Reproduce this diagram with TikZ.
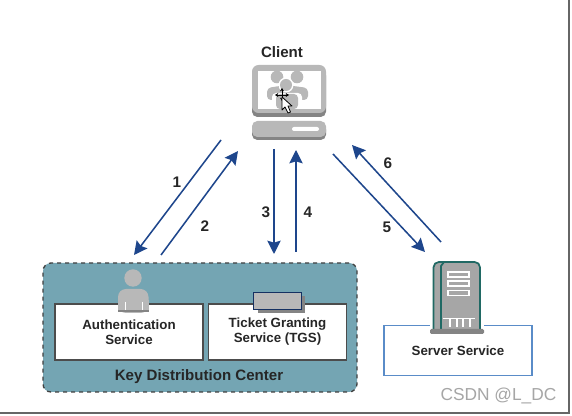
\documentclass[tikz,border=0pt]{standalone}
\usepackage{fontspec}
\setmainfont{Liberation Sans}
\definecolor{arrowblue}{RGB}{30,70,140}
\definecolor{kdcteal}{RGB}{116,165,179}
\definecolor{icongray}{RGB}{184,184,184}
\definecolor{icondark}{RGB}{132,132,132}
\definecolor{serverteal}{RGB}{32,105,100}
\definecolor{serverblue}{RGB}{90,140,200}
\usetikzlibrary{arrows.meta, positioning}

\begin{document}
\begin{tikzpicture}[
          x=0.75pt,
          y=-0.75pt,
          svcbox/.style={
              draw=black!70,
              fill=white,
              line width=0.8pt,
              minimum height=42pt,
              inner sep=0pt,
              font=\fontsize{10}{11.25}\selectfont\bfseries,
              text=black!85,
              align=center
            },
          kdcbox/.style={
              draw=black!75,
              fill=kdcteal,
              dashed,
              rounded corners=6pt,
              line width=1.0pt,
              minimum width=235.5pt,
              minimum height=96.75pt
            },
          iconpart/.style={fill=icongray, draw=none},
          title/.style={font=\fontsize{11.3}{13}\selectfont\bfseries, text=black!85, inner sep=0pt},
          numlabel/.style={font=\fontsize{11.5}{13}\selectfont\bfseries, text=black!85, inner sep=0pt},
          arr/.style={-{Stealth[length=10pt, width=10pt, inset=1.5pt]}, arrowblue, line width=1.15pt}
        ]
        \useasboundingbox (0,0) rectangle (572,416);
        \fill[white] (0,0) rectangle (572,416);

        % client
        \node[title] (clienttitle) at (282,52) {Client};
        \fill[icondark, rounded corners=4pt] (252,70) rectangle (326,117);
        \fill[icongray, rounded corners=5pt] (252,65) rectangle (326,113);
        \fill[white] (258,71) rectangle (321,109);
        \fill[iconpart] (277,77) circle (6.3);
        \fill[iconpart] (297,77) circle (6.3);
        \fill[iconpart, rounded corners=3pt] (267,100) -- (267,88) -- (286,85) -- (308,88) -- (308,100) -- cycle;
        \fill[white] (286,85) circle (7.5);
        \fill[white, rounded corners=3pt] (272,109) -- (272,93) -- (302,93) -- (302,109) -- cycle;
        \fill[iconpart] (286,85) circle (6);
        \fill[iconpart, rounded corners=3pt] (276,109) -- (276,94) -- (298,94) -- (298,109) -- cycle;
        \fill[icondark, rounded corners=4pt] (252,124) rectangle (326,140);
        \fill[icongray, rounded corners=4pt] (252,121) rectangle (326,137);
        \fill[white, rounded corners=1.5pt] (292,127) rectangle (319,131);

        % mouse pointer
        \draw[black, line width=0.6pt, {Stealth[length=2.5pt, width=3pt]}-{Stealth[length=2.5pt, width=3pt]}] (282,88) -- (282,101);
        \draw[black, line width=0.6pt, {Stealth[length=2.5pt, width=3pt]}-{Stealth[length=2.5pt, width=3pt]}] (275,95) -- (289,95);
        \draw[black, fill=white, line width=0.6pt, line join=round] (282,97) -- (282,110) -- (285,107) -- (288,113) -- (290.5,112) -- (288,106) -- (292,106) -- cycle;

        % key distribution center
        \node[kdcbox] (kdc) at (200,327.5) {};
        \node[svcbox, minimum width=111pt] (auth) at (129,332) {Authentication\\Service};
        \node[svcbox, minimum width=104pt] (tgs) at (277.5,332) {Ticket Granting\\Service (TGS)};
        \node[title] (kdctitle) at (199,377) {Key Distribution Center};
        \fill[iconpart] (133,278) circle (8.7);
        \fill[iconpart, rounded corners=6pt] (118,313) -- (118,289) -- (148.5,289) -- (148.5,313) -- cycle;
        \fill[icongray, sharp corners] (118,300) rectangle (148.5,310);
        \fill[icondark] (118,310) rectangle (148.5,312);
        \draw[white, line width=0.7pt] (125,302) -- (125,310) (142,302) -- (142,310);
        \fill[icondark] (258,296) rectangle (305,313);
        \fill[icongray, draw=arrowblue!70!black, line width=0.7pt] (253,292) rectangle (301,309);

        % server
        \node[draw=serverblue, fill=white, line width=0.8pt, minimum width=111pt, minimum height=38pt, inner sep=0pt,
          font=\fontsize{10}{12}\selectfont\bfseries, text=black!85] (server) at (458,350.5) {Server Service};
        \fill[white] (430,322) rectangle (484,326);
        \draw[serverteal, fill=icongray!90!black, line width=1.3pt, rounded corners=4pt] (433.5,330) -- (433.5,262) -- (480,262) -- (480,330);
        \draw[serverteal, line width=1.3pt] (441,330) -- (441,266) -- (444,262);
        \fill[icondark, rounded corners=1pt] (430,329) rectangle (484,334);
        \foreach \slot in {272,281,290.5}
          \draw[white, line width=0.8pt] (448,\slot) rectangle (469,\slot+5);
        \draw[white, line width=1.0pt] (443,318.5) -- (475,318.5);
        \foreach \vent in {450,457,463,470}
          \draw[white, line width=0.8pt] (\vent,318.5) -- (\vent,327);

        % connectors
        \coordinate (a1) at (221,140);
        \coordinate (b1) at (134,255);
        \coordinate (a2) at (161,255);
        \coordinate (b2) at (238,151);
        \coordinate (a3) at (274,149);
        \coordinate (b3) at (274,254);
        \coordinate (a4) at (296,252);
        \coordinate (b4) at (296,150);
        \coordinate (a5) at (333,154);
        \coordinate (b5) at (425,252);
        \coordinate (a6) at (441,242);
        \coordinate (b6) at (352,145);
        \draw[arr] (a1) -- (b1);
        \draw[arr] (a2) -- (b2);
        \draw[arr] (a3) -- (b3);
        \draw[arr] (a4) -- (b4);
        \draw[arr] (a5) -- (b5);
        \draw[arr] (a6) -- (b6);
        \node[numlabel] (n1) at (177,182) {1};
        \node[numlabel] (n2) at (205,226) {2};
        \node[numlabel] (n3) at (266,212) {3};
        \node[numlabel] (n4) at (308,212) {4};
        \node[numlabel] (n5) at (387,227) {5};
        \node[numlabel] (n6) at (388,163) {6};

        % watermark and frame of the screenshot
        \node[font=\fontsize{13}{15}\selectfont, text=black!35, inner sep=0pt] (mark) at (498.5,396) {CSDN @L\_DC};
        \draw[black!60, line width=1.5pt] (0,413) -- (569,413) -- (569,0);
      \end{tikzpicture}
\end{document}
